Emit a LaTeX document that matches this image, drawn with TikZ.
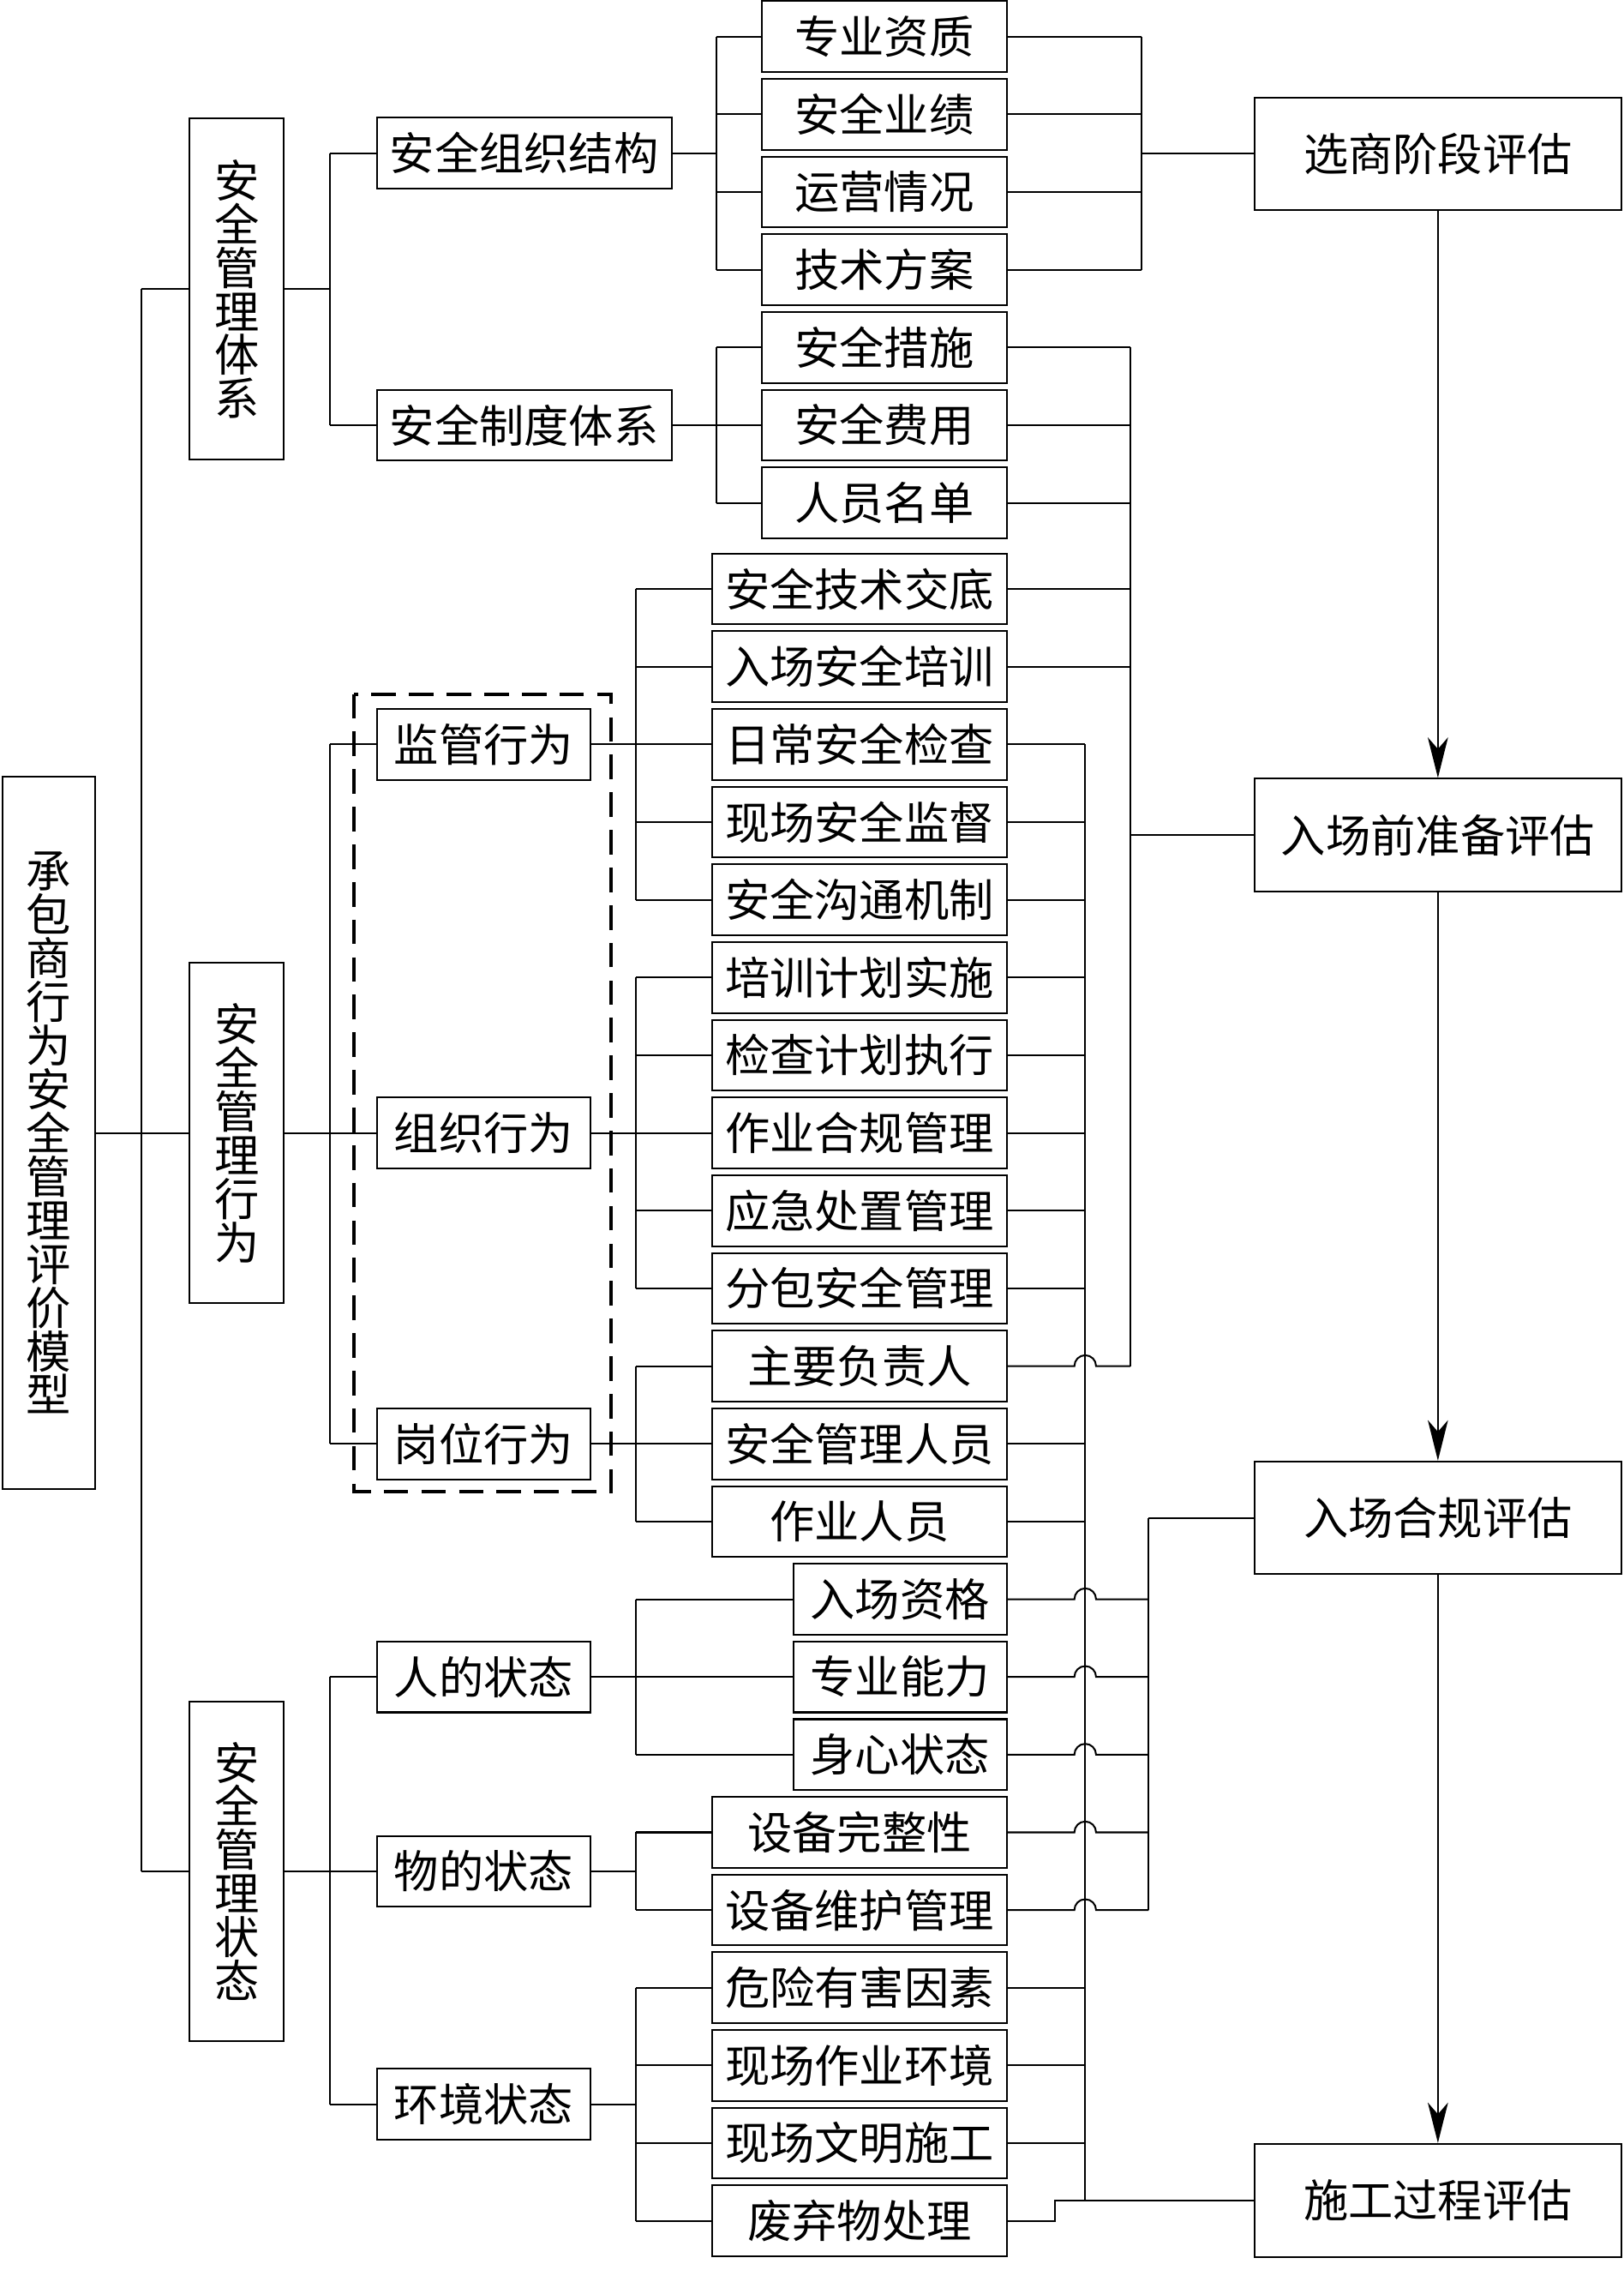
\documentclass[tikz,border=0pt]{standalone}
\usepackage{fontspec}
\newfontfamily\cjk{Noto Sans CJK SC}
\usetikzlibrary{arrows.meta,calc}
\newcommand\mygrp[5]{%
  \draw (#1.east) -- (#1.east -| #4);
  \draw (#2.west -| #4) -- (#3.west -| #4);
  \foreach \c in {#5} \draw (\c.west -| #4) -- (\c.west);
}
\newcommand\myhop[3]{%
  \draw (#1.east) -- ($(#1.east -| xB)+(-7.5,0)$) arc[start angle=180,end angle=360,radius=7.5] -- (#1.east -| #2);
}
\begin{document}
\begin{tikzpicture}[x=0.5pt, y=-0.5pt, line width=0.6pt,
  box/.style={draw, line width=0.6pt, inner sep=0pt, align=center,
    font=\cjk\fontsize{15.5}{15.1}\selectfont},
  bx/.style 2 args={minimum width=#1*0.5pt, minimum height=#2*0.5pt},
  arr/.style={-{Stealth[length=14pt,width=7pt,inset=4pt]}, line width=0.6pt},
  dashbox/.style={draw, line width=1.2pt, dash pattern=on 8.5pt off 4.5pt}]
\useasboundingbox (0,0) rectangle (1123,1570);

% bus x positions
\coordinate (xT) at (98,0);
\coordinate (xA1) at (228,0);
\coordinate (xG1) at (495.8,0);
\coordinate (xB2) at (440,0);
\coordinate (xF) at (789.6,0);
\coordinate (xA) at (782,0);
\coordinate (xB) at (750.8,0);
\coordinate (xC) at (794.7,0);
\coordinate (xS) at (730,0);

% root and level 1
\node[box, bx={64}{493}] (root) at (33.6,783.55) {承\\包\\商\\行\\为\\安\\全\\管\\理\\评\\价\\模\\型};
\node[box, bx={65}{236}] (sys) at (163.75,200) {安\\全\\管\\理\\体\\系};
\node[box, bx={65}{235}] (beh) at (163.75,783.55) {安\\全\\管\\理\\行\\为};
\node[box, bx={65}{235}] (sta) at (163.75,1294.2) {安\\全\\管\\理\\状\\态};

% level 2
\node[box, bx={204}{49}, anchor=west] (org) at (260,105.9) {安全组织结构};
\node[box, bx={204}{49}, anchor=west] (sysm) at (260,294.05) {安全制度体系};
\node[box, bx={148}{49}, anchor=west] (sup) at (260,514.8) {监管行为};
\node[box, bx={148}{49}, anchor=west] (orgb) at (260,783.55) {组织行为};
\node[box, bx={148}{49}, anchor=west] (post) at (260,998.55) {岗位行为};
\node[box, bx={148}{49}, anchor=west] (hum) at (260,1159.8) {人的状态};
\node[box, bx={148}{49}, anchor=west] (obj) at (260,1294.2) {物的状态};
\node[box, bx={148}{49}, anchor=west] (env) at (260,1455.4) {环境状态};

\draw[dashbox] (245,480) rectangle (423,1031.5);

% leaves group 1
\node[box, bx={169.4}{49}, anchor=east] (g1) at (697,25.3) {专业资质};
\node[box, bx={169.4}{49}, anchor=east] (g2) at (697,79.05) {安全业绩};
\node[box, bx={169.4}{49}, anchor=east] (g3) at (697,132.8) {运营情况};
\node[box, bx={169.4}{49}, anchor=east] (g4) at (697,186.55) {技术方案};
\node[box, bx={169.4}{49}, anchor=east] (g5) at (697,240.3) {安全措施};
\node[box, bx={169.4}{49}, anchor=east] (g6) at (697,294.05) {安全费用};
\node[box, bx={169.4}{49}, anchor=east] (g7) at (697,347.8) {人员名单};

% leaves group 2
\node[box, bx={203.5}{49}, anchor=east] (l0) at (697,407.3) {安全技术交底};
\node[box, bx={203.5}{49}, anchor=east] (l1) at (697,461.05) {入场安全培训};
\node[box, bx={203.5}{49}, anchor=east] (l2) at (697,514.8) {日常安全检查};
\node[box, bx={203.5}{49}, anchor=east] (l3) at (697,568.55) {现场安全监督};
\node[box, bx={203.5}{49}, anchor=east] (l4) at (697,622.3) {安全沟通机制};
\node[box, bx={203.5}{49}, anchor=east] (l5) at (697,676.05) {培训计划实施};
\node[box, bx={203.5}{49}, anchor=east] (l6) at (697,729.8) {检查计划执行};
\node[box, bx={203.5}{49}, anchor=east] (l7) at (697,783.55) {作业合规管理};
\node[box, bx={203.5}{49}, anchor=east] (l8) at (697,837.3) {应急处置管理};
\node[box, bx={203.5}{49}, anchor=east] (l9) at (697,891.05) {分包安全管理};
\node[box, bx={203.5}{49}, anchor=east] (l10) at (697,944.8) {主要负责人};
\node[box, bx={203.5}{49}, anchor=east] (l11) at (697,998.55) {安全管理人员};
\node[box, bx={203.5}{49}, anchor=east] (l12) at (697,1052.3) {作业人员};
\node[box, bx={147.5}{49}, anchor=east] (l13) at (697,1106.05) {入场资格};
\node[box, bx={147.5}{49}, anchor=east] (l14) at (697,1159.8) {专业能力};
\node[box, bx={147.5}{49}, anchor=east] (l15) at (697,1213.55) {身心状态};
\node[box, bx={203.5}{49}, anchor=east] (l16) at (697,1267.3) {设备完整性};
\node[box, bx={203.5}{49}, anchor=east] (l17) at (697,1321.05) {设备维护管理};
\node[box, bx={203.5}{49}, anchor=east] (l18) at (697,1374.8) {危险有害因素};
\node[box, bx={203.5}{49}, anchor=east] (l19) at (697,1428.55) {现场作业环境};
\node[box, bx={203.5}{49}, anchor=east] (l20) at (697,1482.3) {现场文明施工};
\node[box, bx={203.5}{49}, anchor=east] (l21) at (697,1536.05) {废弃物处理};

% stage boxes
\node[box, bx={253.5}{78}] (s1) at (994.8,106.3) {选商阶段评估};
\node[box, bx={253.5}{78}] (s2) at (994.8,577.6) {入场前准备评估};
\node[box, bx={253.5}{78}] (s3) at (994.8,1049.8) {入场合规评估};
\node[box, bx={253.5}{78}] (s4) at (994.8,1521.8) {施工过程评估};

% left tree
\draw (sys.west -| xT) -- (sta.west -| xT);
\draw (sys.west -| xT) -- (sys.west);
\draw (sta.west -| xT) -- (sta.west);
\draw (root.east) -- (beh.west);

\mygrp{sys}{org}{sysm}{xA1}{org,sysm}
\mygrp{beh}{sup}{post}{xA1}{sup,orgb,post}
\mygrp{sta}{hum}{env}{xA1}{hum,obj,env}

\mygrp{org}{g1}{g4}{xG1}{g1,g2,g3,g4}
\mygrp{sysm}{g5}{g7}{xG1}{g5,g6,g7}
\mygrp{sup}{l0}{l4}{xB2}{l0,l1,l2,l3,l4}
\mygrp{orgb}{l5}{l9}{xB2}{l5,l6,l7,l8,l9}
\mygrp{post}{l10}{l12}{xB2}{l10,l11,l12}
\mygrp{hum}{l13}{l15}{xB2}{l13,l14,l15}
\mygrp{obj}{l16}{l17}{xB2}{l16,l17}
\mygrp{env}{l18}{l21}{xB2}{l18,l19,l20,l21}

% right side: stage 1
\foreach \c in {g1,g2,g3,g4} \draw (\c.east) -- (\c.east -| xF);
\draw (g1.east -| xF) -- (g4.east -| xF);
\draw (s1.west -| xF) -- (s1.west);

% stage 2 (bus A)
\foreach \c in {g5,g6,g7,l0,l1} \draw (\c.east) -- (\c.east -| xA);
\draw (g5.east -| xA) -- (l10.east -| xA);
\draw (s2.west -| xA) -- (s2.west);
\myhop{l10}{xA}{}

% stage 4 (bus B)
\foreach \c in {l2,l3,l4,l5,l6,l7,l8,l9,l11,l12,l18,l19,l20} \draw (\c.east) -- (\c.east -| xB);
\draw (l2.east -| xB) -- (s4.west -| xB);
\draw (l21.east) -- (l21.east -| xS) -- (s4.west -| xS) -- (s4.west);

% stage 3 (bus C)
\foreach \c in {l13,l14,l15,l16,l17} {\myhop{\c}{xC}{}}
\draw (s3.west -| xC) -- (l17.east -| xC);
\draw (s3.west -| xC) -- (s3.west);

% arrows
\draw[arr] (s1.south) -- (s2.north);
\draw[arr] (s2.south) -- (s3.north);
\draw[arr] (s3.south) -- (s4.north);
\end{tikzpicture}
\end{document}
